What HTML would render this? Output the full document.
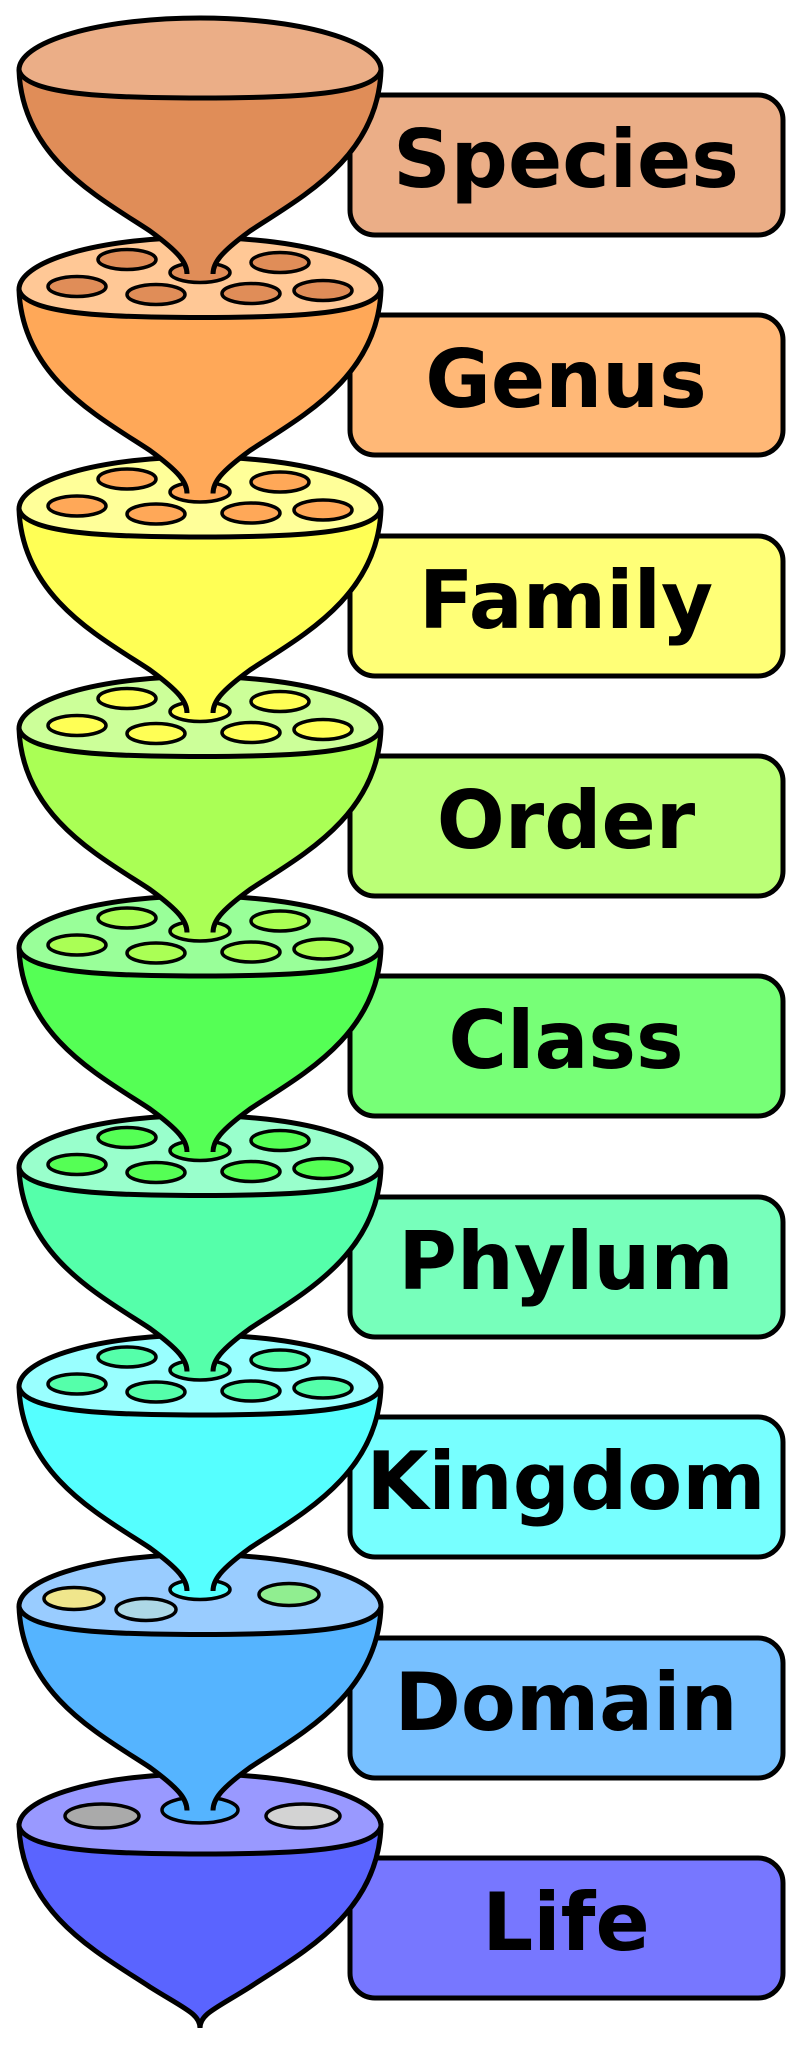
<!DOCTYPE html>
<html><head><meta charset="utf-8"><style>
html,body{margin:0;padding:0;background:#fff;}
svg{display:block;}
text{font-family:"DejaVu Sans","Liberation Sans",sans-serif;font-weight:bold;font-size:80px;fill:#000;}
</style></head><body>
<svg width="798" height="2047" viewBox="0 0 798 2047" xmlns="http://www.w3.org/2000/svg">
<defs>
<path id="bf" d="M19,52 C22,140 100,180 150,213 C180,235 187,245 187,256 L213,256 C213,245 220,235 250,213 C300,180 378,140 381,52 Z"/>
<path id="bs" d="M19,52 C22,140 100,180 150,213 C180,235 187,245 187,256 M213,256 C213,245 220,235 250,213 C300,180 378,140 381,52" fill="none" stroke="#000" stroke-width="5"/>
<path id="rim" d="M19,52 A181,52 0 0 1 381,52 C375,78 280,80 200,80 C120,80 25,78 19,52 Z" stroke="#000" stroke-width="5"/>
</defs>

<g stroke="#000" stroke-width="5">
<rect x="350" y="95" width="433" height="140" rx="25" fill="#ebae87"/>
<rect x="350" y="315" width="433" height="140" rx="25" fill="#ffb877"/>
<rect x="350" y="536" width="433" height="140" rx="25" fill="#ffff77"/>
<rect x="350" y="756" width="433" height="140" rx="25" fill="#bbff77"/>
<rect x="350" y="976" width="433" height="140" rx="25" fill="#77ff77"/>
<rect x="350" y="1197" width="433" height="140" rx="25" fill="#77ffbb"/>
<rect x="350" y="1417" width="433" height="140" rx="25" fill="#77ffff"/>
<rect x="350" y="1638" width="433" height="140" rx="25" fill="#77c0ff"/>
<rect x="350" y="1858" width="433" height="140" rx="25" fill="#7777ff"/>
</g>
<g text-anchor="middle">
<text x="566" y="187">Species</text>
<text x="566" y="407">Genus</text>
<text x="566" y="628">Family</text>
<text x="566" y="848">Order</text>
<text x="566" y="1068">Class</text>
<text x="566" y="1289">Phylum</text>
<text x="566" y="1509">Kingdom</text>
<text x="566" y="1730">Domain</text>
<text x="566" y="1950">Life</text>
</g>

<g transform="translate(0,1774)">
<path d="M19,52 C22,140 100,180 150,213 C185,235 200,240 200,254 C200,240 215,235 250,213 C300,180 378,140 381,52 Z" fill="#5a64ff" stroke="#000" stroke-width="5"/>
<use href="#rim" fill="#9999ff"/>
<g stroke="#000" stroke-width="3.5">
<ellipse cx="102" cy="42" rx="37" ry="12" fill="#aaaaaa"/>
<ellipse cx="303" cy="42" rx="37" ry="12" fill="#d3d3d3"/>
<ellipse cx="200" cy="36" rx="38" ry="13" fill="#55b4ff"/>
</g>
</g>

<g transform="translate(0,1554.5)">
<use href="#bf" fill="#55b4ff"/><use href="#bs"/>
<use href="#rim" fill="#99ccff"/>
<g stroke="#000" stroke-width="3.5">
<ellipse cx="74" cy="44" rx="30" ry="11" fill="#f0e68c"/>
<ellipse cx="146" cy="55" rx="30" ry="11" fill="#add8e6"/>
<ellipse cx="289" cy="40" rx="30" ry="11" fill="#90ee90"/>
<ellipse cx="200" cy="35" rx="30" ry="10" fill="#55ffff"/>
</g>
</g>

<g transform="translate(0,1335)">
<use href="#bf" fill="#55ffff"/><use href="#bs"/>
<use href="#rim" fill="#99ffff"/>
<g stroke="#000" stroke-width="3.5" fill="#55ffaa">
<ellipse cx="127" cy="22" rx="29" ry="10"/><ellipse cx="280" cy="25" rx="29" ry="10"/>
<ellipse cx="77" cy="49" rx="29" ry="10"/><ellipse cx="156" cy="57" rx="29" ry="10"/>
<ellipse cx="251" cy="56" rx="29" ry="10"/><ellipse cx="323" cy="53" rx="29" ry="10"/>
<ellipse cx="200" cy="35" rx="30" ry="10"/>
</g>
</g>

<g transform="translate(0,1115.5)">
<use href="#bf" fill="#55ffaa"/><use href="#bs"/>
<use href="#rim" fill="#99ffcc"/>
<g stroke="#000" stroke-width="3.5" fill="#55ff55">
<ellipse cx="127" cy="22" rx="29" ry="10"/><ellipse cx="280" cy="25" rx="29" ry="10"/>
<ellipse cx="77" cy="49" rx="29" ry="10"/><ellipse cx="156" cy="57" rx="29" ry="10"/>
<ellipse cx="251" cy="56" rx="29" ry="10"/><ellipse cx="323" cy="53" rx="29" ry="10"/>
<ellipse cx="200" cy="35" rx="30" ry="10"/>
</g>
</g>

<g transform="translate(0,896)">
<use href="#bf" fill="#55ff55"/><use href="#bs"/>
<use href="#rim" fill="#99ff99"/>
<g stroke="#000" stroke-width="3.5" fill="#aaff55">
<ellipse cx="127" cy="22" rx="29" ry="10"/><ellipse cx="280" cy="25" rx="29" ry="10"/>
<ellipse cx="77" cy="49" rx="29" ry="10"/><ellipse cx="156" cy="57" rx="29" ry="10"/>
<ellipse cx="251" cy="56" rx="29" ry="10"/><ellipse cx="323" cy="53" rx="29" ry="10"/>
<ellipse cx="200" cy="35" rx="30" ry="10"/>
</g>
</g>

<g transform="translate(0,676.5)">
<use href="#bf" fill="#aaff55"/><use href="#bs"/>
<use href="#rim" fill="#ccff99"/>
<g stroke="#000" stroke-width="3.5" fill="#ffff55">
<ellipse cx="127" cy="22" rx="29" ry="10"/><ellipse cx="280" cy="25" rx="29" ry="10"/>
<ellipse cx="77" cy="49" rx="29" ry="10"/><ellipse cx="156" cy="57" rx="29" ry="10"/>
<ellipse cx="251" cy="56" rx="29" ry="10"/><ellipse cx="323" cy="53" rx="29" ry="10"/>
<ellipse cx="200" cy="35" rx="30" ry="10"/>
</g>
</g>

<g transform="translate(0,457)">
<use href="#bf" fill="#ffff55"/><use href="#bs"/>
<use href="#rim" fill="#ffff99"/>
<g stroke="#000" stroke-width="3.5" fill="#ffa858">
<ellipse cx="127" cy="22" rx="29" ry="10"/><ellipse cx="280" cy="25" rx="29" ry="10"/>
<ellipse cx="77" cy="49" rx="29" ry="10"/><ellipse cx="156" cy="57" rx="29" ry="10"/>
<ellipse cx="251" cy="56" rx="29" ry="10"/><ellipse cx="323" cy="53" rx="29" ry="10"/>
<ellipse cx="200" cy="35" rx="30" ry="10"/>
</g>
</g>

<g transform="translate(0,237.5)">
<use href="#bf" fill="#ffa858"/><use href="#bs"/>
<use href="#rim" fill="#ffc896"/>
<g stroke="#000" stroke-width="3.5" fill="#e08d58">
<ellipse cx="127" cy="22" rx="29" ry="10"/><ellipse cx="280" cy="25" rx="29" ry="10"/>
<ellipse cx="77" cy="49" rx="29" ry="10"/><ellipse cx="156" cy="57" rx="29" ry="10"/>
<ellipse cx="251" cy="56" rx="29" ry="10"/><ellipse cx="323" cy="53" rx="29" ry="10"/>
<ellipse cx="200" cy="35" rx="30" ry="10"/>
</g>
</g>

<g transform="translate(0,18)">
<use href="#bf" fill="#e08d58"/><use href="#bs"/>
<use href="#rim" fill="#ebae87"/>
</g>
</svg>
</body></html>
